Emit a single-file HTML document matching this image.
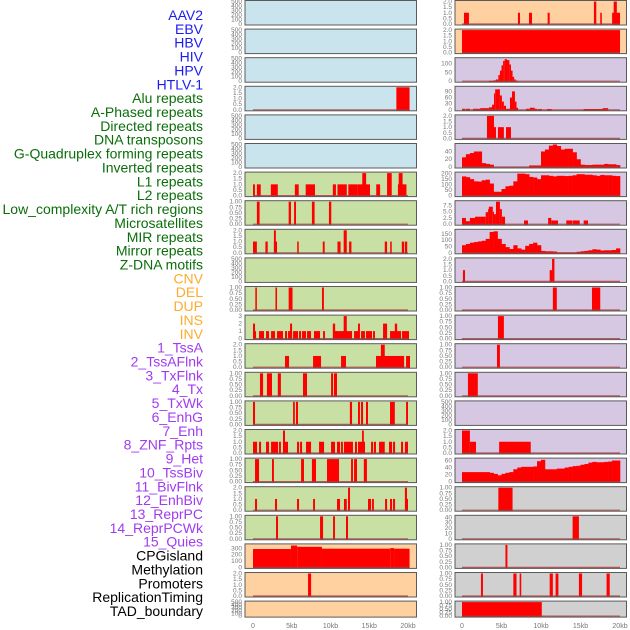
<!DOCTYPE html>
<html><head><meta charset="utf-8">
<style>
html,body{margin:0;padding:0;background:#fff;}
svg{display:block;font-family:"Liberation Sans",sans-serif;}
</style></head>
<body>
<svg id="chart" width="630" height="630" viewBox="0 0 630 630"></svg>
<script>
// ---- track labels ----
const trackLabels = ["AAV2","EBV","HBV","HIV","HPV","HTLV-1","Alu repeats","A-Phased repeats","Directed repeats","DNA transposons","G-Quadruplex forming repeats","Inverted repeats","L1 repeats","L2 repeats","Low_complexity A/T rich regions","Microsatellites","MIR repeats","Mirror repeats","Z-DNA motifs","CNV","DEL","DUP","INS","INV","1_TssA","2_TssAFlnk","3_TxFlnk","4_Tx","5_TxWk","6_EnhG","7_Enh","8_ZNF_Rpts","9_Het","10_TssBiv","11_BivFlnk","12_EnhBiv","13_ReprPC","14_ReprPCWk","15_Quies","CPGisland","Methylation","Promoters","ReplicationTiming","TAD_boundary"];
const labelGroups = ["v","v","v","v","v","v","r","r","r","r","r","r","r","r","r","r","r","r","r","s","s","s","s","s","c","c","c","c","c","c","c","c","c","c","c","c","c","c","c","o","o","o","o","o"];
const xTickLabels = ["0","5kb","10kb","15kb","20kb"];
const xTickValues = [0,5,10,15,20];

// ---- panel backgrounds / y ranges ----
const leftBg  = ["b","b","b","b","b","b","g","g","g","g","g","g","g","g","g","g","g","g","g","o","o","o"];
const rightBg = ["o","o","p","p","p","p","p","p","p","p","p","p","p","p","p","p","p","y","y","y","y","y"];
const leftYmax  = [500,500,500,2,500,500,2,1,2,500,1,3,2,1,1,2,1,2,1,355,2,500];
const rightYmax = [2,2,128,110,2,58,205,9,178,2,1,1,1,1,500,2,64,1,42,1,1,1];
const leftTicks  = ["h","h","h","t","h","h","t","q","t","h","q","3","t","q","q","t","q","t","q","c300","t","h"];
const rightTicks = ["t","t","c100","c90","t","c40","c200","c7","c150","t","q","q","q","q","h","t","c60","q","c40b","q","q","q"];

// ---- left column segments: [startKb, endKb, value] ----
const L4 = [[18.5,20.2,2]];
const L7 = [[0,0.25,1],[0.5,1.0,1],[2.3,3.2,1],[5.4,5.9,1],[6.8,8.0,1],[10.3,10.7,1],[10.9,12.1,1],[12.3,13.5,1],[13.5,15.1,1],[14.1,14.6,2],[15.9,16.4,1],[17.3,17.9,2],[18.7,19.8,1],[18.8,19.3,2]];
const L8 = [[0.5,0.85,1],[4.6,4.9,1],[5.3,5.55,1],[7.6,7.95,1],[9.8,10.1,1]];
const L9 = [[0,0.5,1],[1.6,1.9,1],[2.7,3.1,1],[2.7,2.95,2],[5.7,5.9,1],[9.0,9.25,1],[10.9,11.3,1],[11.7,12.1,2],[12.4,12.7,1],[17.0,17.3,1],[17.7,17.9,1],[19.2,19.5,1],[19.6,19.9,1]];
const L11 = [[0.3,0.5,1],[2.9,3.1,1],[4.6,5.1,1],[8.9,9.15,1]];
const L12 = [[0,0.39,1],[0.78,1.42,1],[1.68,2.07,1],[2.33,2.84,1],[3.1,3.87,1],[4.13,4.39,1],[4.52,5.04,1],[5.17,5.81,1],[5.94,6.2,1],[6.33,6.84,1],[6.97,7.49,1],[7.87,8.65,1],[9.04,9.29,1],[10.45,12.78,1],[13.04,13.68,1],[13.94,14.45,1],[14.58,15.36,1],[15.49,15.74,1],[16.78,17.3,2],[17.68,19.1,1],[19.23,20.13,1],[0,0.26,2],[4.78,5.04,2],[10.3,10.6,2],[13.55,13.8,2],[18.3,18.6,2],[11.7,12.1,3]];
const L13 = [[4.13,4.65,1],[7.75,8.78,1],[11.36,12.0,1],[15.87,19.5,1],[19.75,20.26,1],[16.5,17.0,2]];
const L14 = [[0.9,1.3,1],[1.8,2.45,1],[3.2,3.6,1],[6.45,6.97,1],[10.07,10.33,1],[10.45,10.84,1]];
const L15 = [[0,0.26,1],[5.17,5.4,1],[5.55,5.81,1],[12.5,12.78,1],[13.55,13.8,1],[13.94,14.2,1],[14.58,14.84,1],[17.68,18.3,1],[19.75,20.0,1]];
const L16 = [[0,0.52,1],[0.78,1.04,1],[1.68,2.07,1],[2.33,3.23,1],[3.36,3.6,1],[3.87,4.52,1],[5.68,5.94,1],[6.07,6.33,1],[6.84,7.49,1],[8.52,9.17,1],[10.07,10.58,1],[10.84,11.23,1],[11.36,11.6,1],[11.74,12.9,1],[13.16,13.42,1],[13.55,14.45,1],[15.23,15.49,1],[15.6,15.87,1],[16.26,17.0,1],[17.55,17.94,1],[18.07,18.33,1],[19.1,19.36,1],[19.6,20.0,1],[3.87,4.13,2],[14.07,14.3,2]];
const L17 = [[0.26,0.78,1],[2.45,2.7,1],[6.2,6.58,1],[7.6,8.13,1],[9.55,11.1,1],[12.65,12.9,1],[13.04,13.42,1],[14.3,14.7,1]];
const L18 = [[0.26,0.52,1],[2.84,3.1,1],[5.68,5.94,1],[7.75,8.0,1],[10.84,11.23,1],[11.74,12.1,1],[14.84,15.23,1],[15.36,15.6,1],[17.04,17.3,1],[17.68,17.94,1],[18.07,18.33,1],[19.75,20.0,1],[12.26,12.52,2],[19.6,19.87,2]];
const L19 = [[2.97,3.23,1],[8.65,9.04,1],[10.33,10.58,1],[12.0,12.26,1]];
const L20 = [[0,4.9,290],[4.9,5.7,345],[5.7,8.9,325],[8.9,17.7,295],[17.7,18.2,305],[18.2,20.2,295]];
const L21 = [[7.1,7.5,2]];

// ---- right column segments ----
const R1 = [[0.25,0.88,1],[7.08,7.34,1],[8.48,8.86,1],[10.84,11.1,1],[16.7,17.0,2],[17.5,17.7,1],[19.0,20.0,1],[19.2,19.6,2]];
const R2 = [[0,20,2]];
const R3 = [[3.4,4.0,2],[4.0,4.3,5],[4.3,4.6,10],[4.6,4.8,35],[4.8,5.0,60],[5.0,5.2,90],[5.2,5.4,115],[5.4,5.7,125],[5.7,6.0,120],[6.0,6.2,95],[6.2,6.4,60],[6.4,6.6,25],[6.6,6.8,10],[6.8,7.1,3]];
const R4 = [[0,0.4,5],[0.5,1.0,5],[1.4,2.3,5],[2.3,3.4,8],[3.4,3.8,12],[3.8,4.05,25],[4.05,4.2,80],[4.2,4.8,100],[4.8,5.05,70],[5.05,5.3,40],[5.3,5.57,20],[5.57,6.07,5],[6.07,6.33,60],[6.33,6.7,90],[6.7,6.9,40],[6.9,7.1,10],[8.1,8.6,5],[8.6,9.2,10],[9.2,9.5,5],[9.6,10.1,4],[10.75,11.35,4],[15.4,18.5,4],[17.8,18.5,8]];
const R5 = [[3.16,4.05,2],[4.05,4.3,1],[4.55,5.3,1],[5.57,6.2,1]];
const R8 = [[0,0.5,2.5],[0.5,1.0,1.2],[1.0,1.65,2.5],[1.65,2.4,3],[2.4,3.0,3],[3.0,3.3,4.8],[3.3,3.4,6],[3.4,3.9,7],[3.9,4.05,5],[4.05,4.3,4],[4.3,4.8,9],[4.8,5.05,6],[5.05,5.45,3],[7.85,8.35,1.5],[10.9,11.3,2.5],[11.3,12.15,1.5],[13.2,14.0,1.5],[14.05,14.9,1.5],[15.4,15.95,1.5]];
const R10 = [[0.12,0.38,1],[11.1,11.4,1],[11.4,11.7,2]];
const R11 = [[11.5,12.0,1],[16.45,17.5,1]];
const R12 = [[4.55,5.3,1]];
const R13 = [[4.43,4.8,1]];
const R14 = [[0.75,2.0,1]];
const R16 = [[0,1.0,2],[1.0,1.77,1],[4.7,8.7,1]];
const R18 = [[4.6,6.4,1]];
const R19 = [[14.0,14.8,42]];
const R20 = [[5.5,5.75,1]];
const R21 = [[2.4,2.65,1],[6.5,6.9,1],[7.3,7.5,1],[11.1,11.5,1],[11.85,12.2,1],[14.8,15.2,1],[18.3,18.7,1]];
const R22 = [[0,10.1,1]];

// ---- right column profiles: 0.5 kb bins from 0 to 20 kb ----
const R6bins = [25,33,36,40,40,10,8,6,0,0,0,0,0,0,0,0,0,4,4,4,40,45,55,58,54,45,47,47,38,20,6,5,5,6,6,6,8,7,7,5];
const R7bins = [175,168,150,130,128,140,145,110,35,35,60,85,90,130,200,200,195,170,165,150,185,185,180,175,180,180,178,180,185,195,195,190,190,185,180,188,185,185,180,178];
const R9bins = [60,70,80,85,90,95,110,165,170,110,70,45,30,60,35,25,55,70,80,60,15,12,12,10,3,3,3,3,3,8,12,15,20,28,25,18,20,20,22,35];
const R17bins = [27,27,27,27,27,27,27,25,22,18,22,25,27,35,40,42,42,42,43,58,62,35,35,35,37,37,40,42,44,45,48,50,54,56,55,55,56,57,60,60];
const binStep = 0.5;

const leftSegs  = [null,null,null,L4,null,null,L7,L8,L9,null,L11,L12,L13,L14,L15,L16,L17,L18,L19,L20,L21,null];
const rightSegs = [R1,R2,R3,R4,R5,null,null,R8,null,R10,R11,R12,R13,R14,null,R16,null,R18,R19,R20,R21,R22];
const rightBins = [null,null,null,null,null,R6bins,R7bins,null,R9bins,null,null,null,null,null,null,null,R17bins,null,null,null,null,null];

const tickSets = {
  h:[[0,"0"],[100,"100"],[200,"200"],[300,"300"],[400,"400"],[500,"500"]],
  t:[[0,"0.0"],[0.5,"0.5"],[1,"1.0"],[1.5,"1.5"],[2,"2.0"]],
  q:[[0,"0.00"],[0.25,"0.25"],[0.5,"0.50"],[0.75,"0.75"],[1,"1.00"]],
  "3":[[0,"0"],[1,"1"],[2,"2"],[3,"3"]],
  c300:[[0,"0"],[100,"100"],[200,"200"],[300,"300"]],
  c100:[[0,"0"],[50,"50"],[100,"100"]],
  c90:[[0,"0"],[30,"30"],[60,"60"],[90,"90"]],
  c40:[[0,"0"],[20,"20"],[40,"40"]],
  c200:[[0,"0"],[50,"50"],[100,"100"],[150,"150"],[200,"200"]],
  c7:[[0,"0.0"],[2.5,"2.5"],[5,"5.0"],[7.5,"7.5"]],
  c150:[[0,"0"],[50,"50"],[100,"100"],[150,"150"]],
  c60:[[0,"0"],[20,"20"],[40,"40"],[60,"60"]],
  c40b:[[0,"0"],[10,"10"],[20,"20"],[30,"30"],[40,"40"]]
};
const bgColors = {b:"#c9e4ec",g:"#c8e0a4",o:"#ffd1a0",p:"#d6c7e2",y:"#d0d0d0"};
const labelColors = {v:"#1c1cf0",r:"#0a6e0a",s:"#ffab2e",c:"#a03cf0",o:"#000000"};

const NS = "http://www.w3.org/2000/svg";
const svg = document.getElementById("chart");
function mk(tag, attrs, parent){
  const e = document.createElementNS(NS, tag);
  for (const k in attrs) e.setAttribute(k, attrs[k]);
  (parent||svg).appendChild(e);
  return e;
}
const ROW_STEP = 28.6;
function rowTop(i){ return i*ROW_STEP + 0.5; }
function rowH(i){ return i===21 ? 16 : 24.5; }
const cols = [
  {x0:245, x1:416.5, kb0:253, kbPx:7.75, tickX:242},
  {x0:455, x1:626.5, kb0:462, kbPx:7.9, tickX:452}
];
function xScale(c, kb){ return cols[c].kb0 + kb*cols[c].kbPx; }
function yScale(top, h, ymax, v){ const y0 = top + h - 1, y1 = top + 1; return y0 - (v/ymax)*(y0-y1); }

// labels
const LSTEP = (611-15)/43;
trackLabels.forEach((t,i)=>{
  const e = mk("text",{x:203, y:15 + i*LSTEP + 5, "text-anchor":"end", "font-size":"14", fill:labelColors[labelGroups[i]]});
  
  
  e.textContent = t;
});

function drawPanel(c, i, bgKey, ymax, tickKey, segs, bins){
  const g = mk("g",{});
  
  
  const top = rowTop(i), h = rowH(i), col = cols[c];
  const bg = mk("rect",{x:col.x0, y:top, width:col.x1-col.x0, height:h, fill:bgColors[bgKey], stroke:"none"}, g);
  
  
  const base = yScale(top,h,ymax,0);
  if (segs){
    segs.forEach(s=>{
      const xa = xScale(c,s[0]), xb = xScale(c,s[1]);
      const yv = Math.max(top+0.5, yScale(top,h,ymax,s[2]));
      const r = mk("rect",{x:xa, y:yv, width:Math.max(1,xb-xa), height:base-yv+1, fill:"#ff0000"}, g);
      
      
    });
  }
  if (bins){
    bins.forEach((v,k)=>{
      if (v<=0) return;
      const xa = xScale(c,k*binStep), xb = xScale(c,(k+1)*binStep);
      const yv = Math.max(top+0.5, yScale(top,h,ymax,v));
      const r = mk("rect",{x:xa, y:yv, width:xb-xa+0.3, height:base-yv+1, fill:"#ff0000"}, g);
      
      
    });
  }
  if (segs || bins){
    const bl = mk("line",{x1:xScale(c,0), x2:xScale(c,20), y1:base, y2:base, stroke:"#b03a3a", "stroke-width":"1.2", opacity:"0.8"}, g);
    
    
  }
  const fr = mk("rect",{x:col.x0, y:top, width:col.x1-col.x0, height:h, fill:"none", stroke:"#5a5a5a", "stroke-width":"1"}, g);
  
  
  tickSets[tickKey].forEach(tk=>{
    const t = mk("text",{x:col.tickX, y:yScale(top,h,ymax,tk[0])+2, "text-anchor":"end", "font-size":"6.5", fill:"#777"}, g);
    
    
    t.textContent = tk[1];
  });
}
for (let i=0;i<22;i++){
  drawPanel(0, i, leftBg[i], leftYmax[i], leftTicks[i], leftSegs[i], null);
  drawPanel(1, i, rightBg[i], rightYmax[i], rightTicks[i], rightSegs[i], rightBins[i]);
}
// x axes
[0,1].forEach(c=>{
  xTickValues.forEach((v,k)=>{
    const t = mk("text",{x:xScale(c,v), y:628, "text-anchor":"middle", "font-size":"7", fill:"#777"});
    
    
    t.textContent = xTickLabels[k];
  });
});
</script>
</body></html>
